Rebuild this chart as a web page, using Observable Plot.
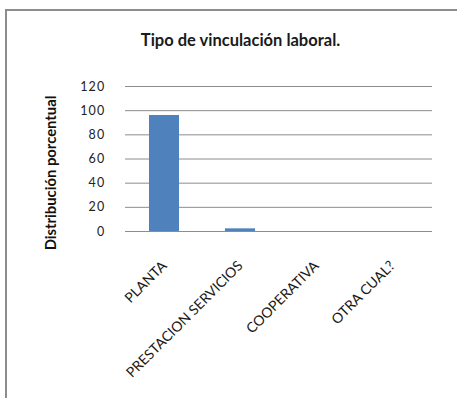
<!DOCTYPE html>
<html>
<head>
<meta charset="utf-8">
<script src="https://cdn.jsdelivr.net/npm/d3@7"></script>
<script src="https://cdn.jsdelivr.net/npm/@observablehq/plot@0.6"></script>
<style>
  html, body { margin: 0; padding: 0; background: #fff; }
  #wrap { position: relative; width: 457px; height: 398px; overflow: hidden; font-family: Lato, "Open Sans", sans-serif; }
  #frame { position: absolute; left: 5px; top: 9px; width: 460px; height: 400px; border-left: 2px solid #8c8c8c; border-top: 2px solid #8c8c8c; box-sizing: border-box; }
  #title { position: absolute; left: 0; width: 481px; top: 30px; text-align: center; font-size: 16.5px; font-weight: bold; color: #1a1a1a; }
  #chart { position: absolute; left: 0; top: 0; }
  #chart g[aria-label="y-axis tick label"] text { letter-spacing: 1.2px; }
</style>
</head>
<body>
<div id="wrap">
  <div id="frame"></div>
  <div id="title">Tipo de vinculación laboral.</div>
  <div id="chart"></div>
</div>
<script>
const categories = ["PLANTA", "PRESTACION SERVICIOS", "COOPERATIVA", "OTRA CUAL?"];
const values = [96, 2.2, 0, 0];
const yTicks = [0, 20, 40, 60, 80, 100, 120];
const yLabel = "Distribución porcentual";

const data = categories.map((c, i) => ({cat: c, val: values[i]}));

const plot = Plot.plot({
  width: 457,
  height: 398,
  marginTop: 86,
  marginLeft: 125,
  marginRight: 25,
  marginBottom: 167,
  style: {background: "transparent", fontFamily: "Lato, 'Open Sans', sans-serif", fontSize: "12px", color: "#222", overflow: "visible"},
  x: {domain: categories, paddingInner: 0.6, paddingOuter: 0.3, label: null},
  y: {domain: [0, 120], label: null},
  marks: [
    Plot.ruleY(yTicks, {stroke: "#8c8c8c", strokeWidth: 1}),
    Plot.ruleX([0], {frameAnchor: "left", stroke: "#8c8c8c"}),
    Plot.barY(data, {x: "cat", y: "val", fill: "#4f81bd"}),
    Plot.axisY({ticks: yTicks, tickSize: 0, tickPadding: 20, label: null, fontSize: 12.5, fill: "#222"}),
    Plot.axisX({tickSize: 0, tickRotate: -45, tickPadding: 32, label: null, fontSize: 14, fill: "#1a1a1a"}),
    Plot.text([yLabel], {frameAnchor: "left", textAnchor: "middle", dx: -74, dy: 14, rotate: -90, fontWeight: "bold", fontSize: 14.8, fill: "#111"})
  ]
});
document.getElementById("chart").appendChild(plot);
</script>
</body>
</html>
